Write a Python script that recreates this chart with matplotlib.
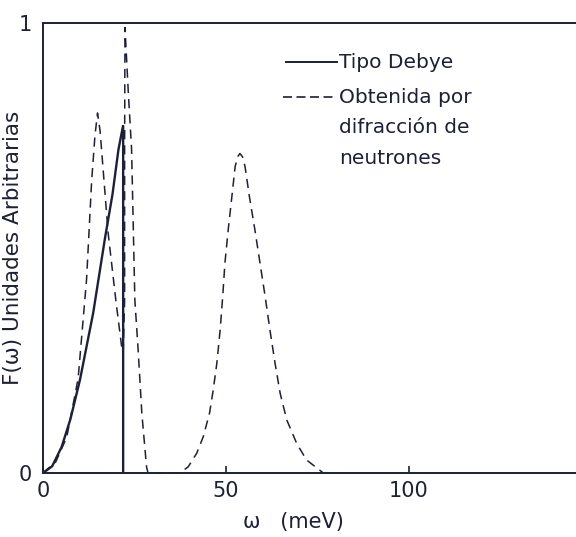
import matplotlib
matplotlib.use('Agg')
import matplotlib.pyplot as plt

# curves (omega in meV, F in arbitrary units)
debye_w = [0, 2.5, 5.1, 7.5, 10.1, 13.7, 16.9, 19.0, 20.6, 21.9, 21.9]
debye_f = [0, 0.015, 0.058, 0.12, 0.207, 0.355, 0.52, 0.62, 0.718, 0.773, 0]

neutron_w = [0, 3.5, 6.5, 9.6, 11.9, 13.3, 14.2, 14.9, 15.6, 17.8, 19.9, 21.5, 21.9,
             22.3, 22.3, 22.4, 23.3, 24.2, 25.1, 26.0, 27.0, 28.3, 28.7,
             37.4, 39.7, 42.0, 43.8, 45.5, 46.5, 47.5, 48.4, 49.1, 49.7, 50.6, 51.6, 52.5,
             53.2, 53.8, 54.5,
             55.2, 56.4, 57.9, 59.3, 60.7, 62.0, 63.4, 64.8, 66.6, 69.3, 72.0, 76.6]
neutron_f = [0, 0.025, 0.08, 0.21, 0.43, 0.65, 0.75, 0.80, 0.76, 0.533, 0.384, 0.28, 0.267,
             0.384, 0.72, 0.99, 0.847, 0.72, 0.384, 0.273, 0.133, 0.013, 0,
             0, 0.014, 0.044, 0.081, 0.133, 0.184, 0.244, 0.318, 0.392, 0.466, 0.54, 0.614, 0.681,
             0.703, 0.71, 0.703,
             0.681, 0.614, 0.54, 0.466, 0.392, 0.318, 0.244, 0.177, 0.118, 0.066, 0.029, 0]

x_ticks = [0, 50, 100]
y_ticks = [0, 1]
legend_labels = ['Tipo Debye', 'Obtenida por', 'difracción de', 'neutrones']

ink = '#1d2036'

fig = plt.figure(figsize=(5.76, 5.37), dpi=100)
ax = fig.add_axes([43 / 576, 64 / 537, 540 / 576, 450 / 537])

ax.plot(debye_w, debye_f, color=ink, lw=1.7, solid_joinstyle='miter')
ax.plot(neutron_w, neutron_f, color=ink, lw=1.1, linestyle=(0, (6, 4)))

ax.set_xlim(0, 540 / 3.66)
ax.set_ylim(0, 1)
ax.set_xticks(x_ticks)
ax.set_yticks(y_ticks)
ax.tick_params(axis='x', direction='in', length=5, width=1.2, labelsize=15, pad=6, colors=ink)
ax.tick_params(axis='y', length=0, labelsize=15, pad=8, colors=ink)
ax.spines['right'].set_visible(False)
for s in ['left', 'bottom', 'top']:
    ax.spines[s].set_color(ink)
    ax.spines[s].set_linewidth(1.4)

ax.set_ylabel('F(ω) Unidades Arbitrarias', fontsize=15.5, color=ink, va='center', ha='center')
ax.yaxis.set_label_coords(-0.056, 0.5)
ax.set_xlabel('ω   (meV)', fontsize=15, color=ink, va='center', ha='center')
ax.xaxis.set_label_coords(0.463, -0.109)

# hand drawn legend in the upper part of the box
tr = ax.transAxes
ax.plot([0.450, 0.544], [0.913, 0.913], color=ink, lw=1.4, transform=tr)
ax.plot([0.445, 0.544], [0.835, 0.835], color=ink, lw=1.2, linestyle=(0, (5.4, 2.7)), transform=tr)
for lab, yy in zip(legend_labels, [0.913, 0.835, 0.767, 0.700]):
    ax.text(0.549, yy, lab, transform=tr, fontsize=14.5, color=ink, va='center', ha='left')

fig.savefig('out.png', dpi=100)
